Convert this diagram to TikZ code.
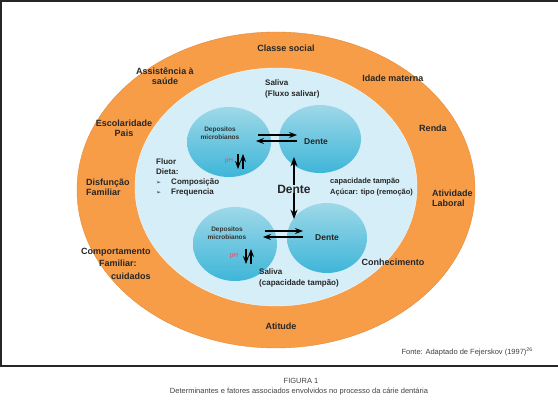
\documentclass[tikz,border=0pt]{standalone}
\usepackage{fontspec}
\setmainfont{Liberation Sans}
\newfontfamily\symfont{DejaVu Sans}
\usepackage{tikz}
\usetikzlibrary{arrows.meta,positioning,shapes.geometric}
\definecolor{ringorange}{RGB}{247,157,72}
\definecolor{ringedge}{RGB}{226,138,58}
\definecolor{paleblue}{RGB}{214,238,248}
\definecolor{balltop}{RGB}{158,216,232}
\definecolor{ballbot}{RGB}{62,182,216}
\definecolor{phred}{RGB}{222,78,104}
\newcommand{\bulmark}{{\symfont\mdseries\fontsize{6}{10}\selectfont ➢}\hspace{10pt}}

\begin{document}
\begin{tikzpicture}[x=1pt, y=-1pt, >=Stealth,
  lbl/.style={font=\bfseries\fontsize{9}{10}\selectfont, text=black!85, inner sep=0pt, align=center},
  small/.style={font=\bfseries\fontsize{6.5}{8}\selectfont, text=black!80, inner sep=0pt, align=center},
  ball/.style={ellipse, draw=none, top color=balltop, bottom color=ballbot, inner sep=0pt},
  arr/.style={->, line width=1.1pt},
  note/.style={font=\fontsize{7.5}{8}\selectfont, text=black!75, inner sep=0pt}]

  \useasboundingbox (0,0) rectangle (558,401);

  % frame
  \draw[line width=1.4pt, black!85] (558,1) -- (1,1) -- (1,366) -- (558,366);

  % rings
  \node[ellipse, draw=ringedge, fill=ringorange, minimum width=398, minimum height=316] (outer) at (276,190) {};
  \node[ellipse, draw=white!70!paleblue, fill=paleblue, minimum width=282, minimum height=238] (inner) at (276,187) {};

  % balls
  \node[ball, minimum width=84, minimum height=70] (dep1) at (229,142) {};
  \node[ball, minimum width=82, minimum height=68] (den1) at (320,139) {};
  \node[ball, minimum width=84, minimum height=74] (dep2) at (235,244) {};
  \node[ball, minimum width=80, minimum height=70] (den2) at (327,238) {};

  % outer ring labels
  \node[lbl] (classe) at (286,48) {Classe social};
  \node[lbl] (assist) at (165,76) {Assistência à\\saúde};
  \node[lbl] (idade) at (393,78) {Idade materna};
  \node[lbl] (escol) at (124,128) {Escolaridade\\Pais};
  \node[lbl] (renda) at (433,128) {Renda};
  \node[lbl, anchor=west, align=left] (disf) at (86,187) {Disfunção\\Familiar};
  \node[lbl, anchor=west, align=left] (ativ) at (432,198) {Atividade\\Laboral};
  \node[lbl, anchor=west] (comp1) at (81,252) {Comportamento};
  \node[lbl, anchor=west] (comp2) at (99,263) {Familiar:};
  \node[lbl, anchor=west] (comp3) at (111,276) {cuidados};
  \node[lbl] (conhec) at (393,262) {Conhecimento};
  \node[lbl] (atitude) at (281,326) {Atitude};

  % inner labels
  \node[lbl, anchor=west, align=left, font=\bfseries\fontsize{8}{11}\selectfont] (sal1) at (265,89) {Saliva\\(Fluxo salivar)};
  \node[lbl, anchor=west, align=left, font=\bfseries\fontsize{8}{10}\selectfont] (fluor) at (156,167) {Fluor\\Dieta:};
  \node[lbl, anchor=west, align=left, font=\bfseries\fontsize{8}{10}\selectfont] (bul) at (156,187) {\bulmark Composição\\\bulmark Frequencia};
  \node[lbl, anchor=west, align=left, font=\bfseries\fontsize{7.5}{10.5}\selectfont] (tamp) at (330,187) {capacidade tampão\\Açúcar: tipo (remoção)};
  \node[lbl, anchor=west, align=left, font=\bfseries\fontsize{8}{11}\selectfont] (sal2) at (259,278) {Saliva\\(capacidade tampão)};
  \node[lbl, font=\bfseries\fontsize{12}{12}\selectfont] (dente) at (294,189) {Dente};

  % ball texts
  \node[small] (dep1t) at (220,133) {Depositos\\microbianos};
  \node[lbl, font=\bfseries\fontsize{8.5}{10}\selectfont] (den1t) at (316,142) {Dente};
  \node[small] (dep2t) at (227,233) {Depositos\\microbianos};
  \node[lbl, font=\bfseries\fontsize{8.5}{10}\selectfont] (den2t) at (327,238) {Dente};
  \node[small, text=phred, font=\fontsize{6.5}{7}\selectfont] (ph1) at (229,161) {pH};
  \node[small, text=phred, font=\fontsize{6.5}{7}\selectfont] (ph2) at (234,256) {pH};

  % arrow ends
  \coordinate (a1) at (258,135); \coordinate (a2) at (297,135);
  \coordinate (a3) at (297,141); \coordinate (a4) at (256,141);
  \coordinate (b1) at (265,231); \coordinate (b2) at (303,231);
  \coordinate (b3) at (303,237); \coordinate (b4) at (263,237);
  \coordinate (p1) at (238,154); \coordinate (p2) at (238,169);
  \coordinate (p3) at (243,169); \coordinate (p4) at (243,154);
  \coordinate (q1) at (246,249); \coordinate (q2) at (246,264);
  \coordinate (q3) at (251,264); \coordinate (q4) at (251,249);
  \coordinate (up) at (294,157); \coordinate (dn) at (294,219);

  % arrows
  \draw[arr] (a1) -- (a2);
  \draw[arr] (a3) -- (a4);
  \draw[arr] (b1) -- (b2);
  \draw[arr] (b3) -- (b4);
  \draw[arr] (p1) -- (p2);
  \draw[arr] (p3) -- (p4);
  \draw[arr] (q1) -- (q2);
  \draw[arr] (q3) -- (q4);
  \draw[arr, line width=1.4pt] (dente.north) -- (up);
  \draw[arr, line width=1.4pt] (dente.south) -- (dn);

  % source and caption
  \node[note, anchor=east] (fonte) at (533,352) {Fonte: Adaptado de Fejerskov (1997)\textsuperscript{26}};
  \node[note] (fig) at (301,381) {FIGURA 1};
  \node[note] (cap) at (299,392) {Determinantes e fatores associados envolvidos no processo da cárie dentária};
\end{tikzpicture}
\end{document}
